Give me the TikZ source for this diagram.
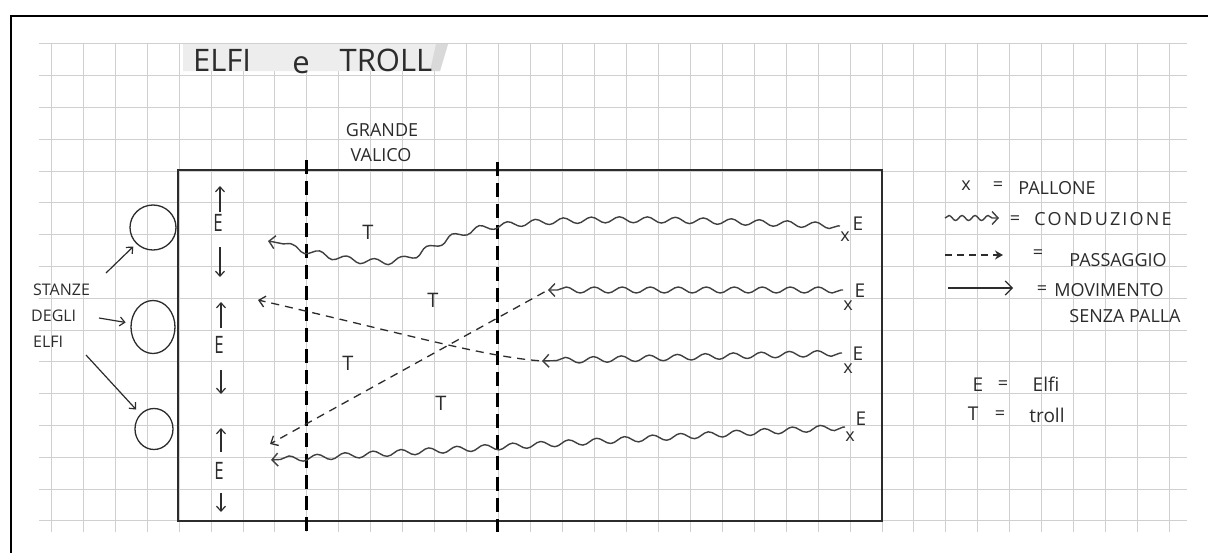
\documentclass[tikz,border=0pt]{standalone}
\usepackage{fontspec}
\setmainfont{Open Sans}
\newfontfamily\handwide[LetterSpace=12]{Open Sans}
\usetikzlibrary{arrows.meta,decorations.pathmorphing,shapes.geometric}
\definecolor{pen}{HTML}{2C2C2C}
\definecolor{gridc}{HTML}{D0D0D0}
\definecolor{wavec}{HTML}{404040}
\begin{document}
\begin{tikzpicture}[x=1pt,y=-1pt,
  hw/.style={font=\fontsize{#1}{#1}\selectfont, text=pen, inner sep=0pt},
  hw/.default=18,
  gridline/.style={draw=gridc, line width=0.8pt},
  room/.style={ellipse, draw=pen, line width=1.3pt, inner sep=0pt},
  arr/.style={draw=pen, line width=1.2pt, -{Straight Barb[length=5pt,width=9pt]}},
  wave/.style={draw=wavec, line width=1.4pt, decorate,
    decoration={snake, amplitude=3pt, segment length=28pt, post length=5pt, pre length=2pt},
    -{Straight Barb[length=6pt,width=13pt]}},
  pass/.style={draw=pen, line width=1.3pt, dash pattern=on 8pt off 6pt,
    -{Straight Barb[length=6pt,width=11pt]}},
  valico/.style={draw=black, line width=2.2pt, dash pattern=on 14pt off 7pt}
]
\useasboundingbox (0,0) rectangle (1208,552);
\fill[white] (0,0) rectangle (1208,552);

% grid paper
\foreach \k in {-4,...,31} \draw[gridline] ({179+31.95*\k},43) -- ({179+31.95*\k},532);
\foreach \j in {-4,...,11} \draw[gridline] (39,{171+31.8*\j}) -- (1187,{171+31.8*\j});

% outer frame
\draw[black, line width=2pt] (10.5,560) -- (10.5,16) -- (1215,16);

% title band and title
\fill[gray!14] (183,44) -- (448,44) -- (440,71) -- (183,71) -- cycle;
\fill[gray!30] (436,44) -- (448,44) -- (440,71) -- (430,71) -- cycle;
\node[hw=31] (t1) at (222,60) {ELFI};
\node[hw=31] (t2) at (301,65) {e};
\node[hw=31] (t3) at (386,60) {TROLL};

% grande valico
\node[hw=18] (gv1) at (382,130) {GRANDE};
\node[hw=18] (gv2) at (381,155) {VALICO};

% field
\draw[pen, line width=1.4pt] (178,170) rectangle (882,521);
\draw[valico] (306.5,160) -- (306.5,537);
\draw[valico] (497.5,162) -- (497.5,532);

% rooms
\node[room, minimum width=46pt, minimum height=45pt] (s1) at (153,227.5) {};
\node[room, minimum width=44pt, minimum height=53pt] (s2) at (153,327) {};
\node[room, minimum width=38pt, minimum height=41pt] (s3) at (154,429) {};
\node[hw=16, anchor=west] (lab1) at (33,290) {STANZE};
\node[hw=16, anchor=west] (lab2) at (31,316) {DEGLI};
\node[hw=16, anchor=west] (lab3) at (33,342) {ELFI};
\coordinate (a1) at (106,273);
\coordinate (a2) at (99,318);
\coordinate (a3) at (86,355);
\draw[arr, shorten >=4pt] (a1) -- (s1);
\draw[arr, shorten >=5pt] (a2) -- (s2);
\draw[arr, shorten >=6pt] (a3) -- (s3);

% elves on the left side
\node[hw=24, xscale=0.7] (E1) at (218,223) {E};
\node[hw=24, xscale=0.7] (E2) at (219,345) {E};
\node[hw=24, xscale=0.7] (E3) at (219,471) {E};
\coordinate (u1a) at (220,212); \coordinate (u1b) at (220,186);
\coordinate (d1a) at (220,247); \coordinate (d1b) at (220,277);
\coordinate (u2a) at (221,328); \coordinate (u2b) at (221,302);
\coordinate (d2a) at (221,370); \coordinate (d2b) at (221,394);
\coordinate (u3a) at (221,452); \coordinate (u3b) at (221,428);
\coordinate (d3a) at (221,493); \coordinate (d3b) at (221,512);
\draw[arr] (u1a) -- (u1b); \draw[arr] (d1a) -- (d1b);
\draw[arr] (u2a) -- (u2b); \draw[arr] (d2a) -- (d2b);
\draw[arr] (u3a) -- (u3b); \draw[arr] (d3a) -- (d3b);

% trolls
\node[hw=20] (T1) at (368,232) {T};
\node[hw=20] (T2) at (433,300) {T};
\node[hw=20] (T3) at (348,363) {T};
\node[hw=20] (T4) at (441,403) {T};

% balls and elves on the right
\node[hw=18] (x1) at (845,237) {x};
\node[hw=19] (e1) at (858,224) {E};
\node[hw=18] (x2) at (848,306) {x};
\node[hw=19] (e2) at (860,291) {E};
\node[hw=18] (x3) at (848,369) {x};
\node[hw=19] (e3) at (858,354) {E};
\node[hw=18] (x4) at (850,437) {x};
\node[hw=19] (e4) at (861,419) {E};

% dribbling (wavy) arrows
\coordinate (w1s) at (840,226); \coordinate (w1t) at (268,241);
\coordinate (w2s) at (843,290); \coordinate (w2t) at (548,290);
\coordinate (w3s) at (842,353); \coordinate (w3t) at (542,361);
\coordinate (w4s) at (845,427); \coordinate (w4t) at (271,460);
\draw[wave] (w1s) .. controls (700,220) and (580,216) .. (498,227)
  .. controls (445,234) and (430,262) .. (390,262)
  .. controls (340,262) and (300,246) .. (w1t);
\draw[wave] (w2s) -- (w2t);
\draw[wave] (w3s) -- (w3t);
\draw[wave] (w4s) -- (w4t);

% passes
\coordinate (dt1) at (258,300);
\coordinate (dt2) at (270,444);
\draw[pass, shorten <=3pt] (w3t) .. controls (480,356) and (390,330) .. (dt1);
\draw[pass, shorten <=4pt] (w2t) -- (dt2);

% legend
\node[hw=18] (lx) at (966,186) {x};
\node[hw=18] (leq1) at (998,186) {=};
\node[hw=18] (lpal) at (1057,188) {PALLONE};
\coordinate (lw1) at (945,218); \coordinate (lw2) at (999,218);
\draw[wave, decoration={amplitude=2.5pt, segment length=13pt, post length=4pt, pre length=0pt}] (lw1) -- (lw2);
\node[hw=18] (leq2) at (1015,220) {=};
\node[hw=18, font=\handwide\fontsize{18}{18}\selectfont] (lcon) at (1103,219) {CONDUZIONE};
\coordinate (ld1) at (945,255); \coordinate (ld2) at (1003,255);
\draw[pass, dash pattern=on 7pt off 5pt, -{Stealth[length=8pt,width=9pt]}] (ld1) -- (ld2);
\node[hw=18] (leq3) at (1038,254) {=};
\node[hw=18] (lpas) at (1118,260) {PASSAGGIO};
\coordinate (lm1) at (948,288); \coordinate (lm2) at (1013,288);
\draw[arr, -{Straight Barb[length=7pt,width=14pt]}] (lm1) -- (lm2);
\node[hw=18] (leq4) at (1042,290) {=};
\node[hw=18] (lmov) at (1109,290) {MOVIMENTO};
\node[hw=18] (lsen) at (1125,316) {SENZA PALLA};
\node[hw=19] (lE) at (978,385) {E};
\node[hw=18] (leq5) at (1003,385) {=};
\node[hw=19] (lelf) at (1046,384) {Elfi};
\node[hw=19] (lT) at (973,414) {T};
\node[hw=18] (leq6) at (1000,415) {=};
\node[hw=19] (ltr) at (1047,415) {troll};
\end{tikzpicture}
\end{document}
